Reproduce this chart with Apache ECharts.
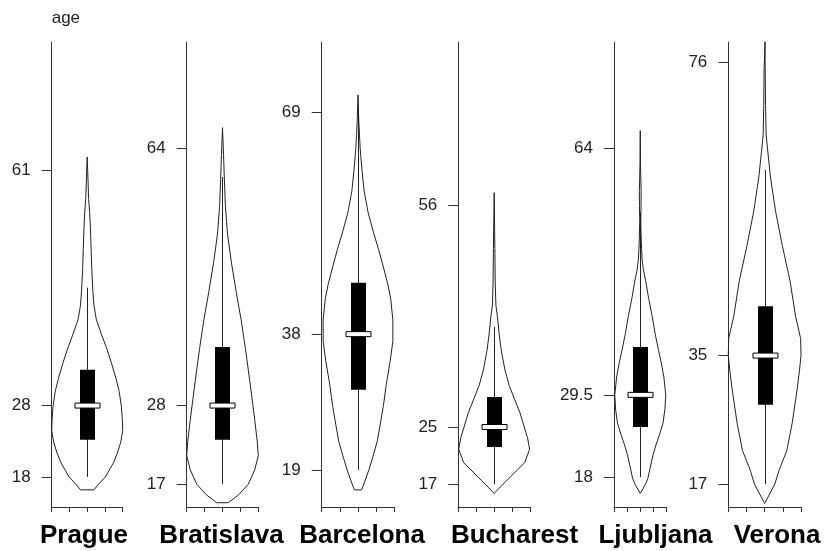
<!DOCTYPE html>
<html>
<head>
<meta charset="utf-8">
<script src="https://cdn.jsdelivr.net/npm/echarts@6/dist/echarts.min.js"></script>
<style>
  html, body { margin: 0; padding: 0; background: #fff; }
  #chart { width: 828px; height: 551px; }
</style>
</head>
<body>
<div id="chart"></div>
<script>
// ---------- data ----------
const cities = ['Prague', 'Bratislava', 'Barcelona', 'Bucharest', 'Ljubljana', 'Verona'];
const yAxisName = 'age';
const tickValues = [[18, 28, 61], [17, 28, 64], [19, 38, 69], [17, 25, 56], [18, 29.5, 64], [17, 35, 76]];

// violin outlines: age values and relative half-widths (density)
const pragueAge     = [16.2, 17, 18, 20, 21.5, 23, 24.5, 26, 28, 30, 32, 34, 36, 38, 40, 42, 44, 47, 50, 53, 55, 57, 60, 62.8];
const pragueWidth   = [0.19, 0.32, 0.51, 0.74, 0.86, 0.95, 1.0, 0.99, 0.96, 0.9, 0.8, 0.68, 0.55, 0.4, 0.26, 0.19, 0.16, 0.13, 0.11, 0.09, 0.07, 0.04, 0.02, 0];
const bratislavaAge   = [14.4, 15.5, 17, 19, 21, 23, 26, 28, 31.5, 36, 40, 44, 48, 52, 56, 60, 63, 66.9];
const bratislavaWidth = [0.16, 0.45, 0.72, 0.9, 1.0, 0.97, 0.9, 0.85, 0.76, 0.64, 0.52, 0.38, 0.25, 0.14, 0.08, 0.05, 0.03, 0];
const barcelonaAge   = [16.2, 17, 19, 21, 23, 25, 28, 31, 34, 37, 40, 43, 45, 47, 50, 52, 55, 58, 61, 64, 66, 68, 71.5];
const barcelonaWidth = [0.1, 0.16, 0.3, 0.42, 0.53, 0.6, 0.7, 0.78, 0.88, 0.96, 0.96, 0.9, 0.82, 0.72, 0.56, 0.44, 0.28, 0.17, 0.11, 0.06, 0.04, 0.02, 0];
const bucharestAge   = [15.7, 17, 19, 20, 21.9, 23.5, 25, 27, 28.5, 30.8, 33, 35.7, 38, 40.5, 42, 45, 50, 54, 57.8];
const bucharestWidth = [0, 0.25, 0.65, 0.85, 0.99, 0.93, 0.84, 0.72, 0.6, 0.42, 0.3, 0.2, 0.14, 0.09, 0.05, 0.03, 0.02, 0.01, 0];
const ljubljanaAge   = [15.7, 17, 17.8, 19, 21, 22.5, 24, 25.6, 27.5, 29.5, 32, 34, 35.7, 38, 40.6, 43, 45.4, 47, 48.5, 50, 52, 54, 56, 58, 60, 62, 66.5];
const ljubljanaWidth = [0, 0.2, 0.29, 0.36, 0.48, 0.6, 0.74, 0.87, 0.94, 0.97, 0.9, 0.8, 0.7, 0.57, 0.45, 0.32, 0.21, 0.12, 0.07, 0.05, 0.03, 0.02, 0.03, 0.035, 0.02, 0.01, 0];
const veronaAge   = [14.3, 17, 19, 21.7, 25.6, 30.5, 33, 35, 37.4, 40.5, 45.4, 50.3, 55.2, 60, 63.9, 66, 70, 75, 79];
const veronaWidth = [0, 0.28, 0.4, 0.61, 0.76, 0.9, 0.96, 1.0, 0.99, 0.85, 0.7, 0.49, 0.3, 0.16, 0.08, 0.04, 0.025, 0.015, 0.01];

// box statistics: [q1, q3, lower whisker, upper whisker, median]
const pragueBox     = [23.2, 33.0, 18, 44.5, 28];
const bratislavaBox = [23.2, 36.2, 17, 60, 28];
const barcelonaBox  = [30.2, 45.2, 19, 70, 38];
const bucharestBox  = [22.2, 29.2, 17, 39, 25];
const ljubljanaBox  = [25.0, 36.2, 18, 55, 29.5];
const veronaBox     = [28.1, 41.9, 17, 61, 35];

const violinAges   = [pragueAge, bratislavaAge, barcelonaAge, bucharestAge, ljubljanaAge, veronaAge];
const violinWidths = [pragueWidth, bratislavaWidth, barcelonaWidth, bucharestWidth, ljubljanaWidth, veronaWidth];
const boxes = [pragueBox, bratislavaBox, barcelonaBox, bucharestBox, ljubljanaBox, veronaBox];

// ---------- layout ----------
const gridLeft  = [51.7, 186.7, 321.7, 458.3, 614, 728.3];
const gridWidth = [71, 71.6, 72.6, 71.7, 52.5, 72.7];
const labelX    = [84, 221.5, 362, 514.5, 655.5, 777];
const Y_MIN = 13.8, Y_MAX = 78.9;
const TEXT = '#222';
const FONT = "'Liberation Sans', Arial, sans-serif";

const grids = [], xAxes = [], yAxes = [], series = [], graphics = [];

cities.forEach((city, i) => {
  grids.push({ left: gridLeft[i], width: gridWidth[i], top: 42, bottom: 44, containLabel: false });
  xAxes.push({
    type: 'value', gridIndex: i, min: -1, max: 1, interval: 0.5,
    axisLine: { show: true, onZero: false, lineStyle: { color: '#333', width: 1 } },
    axisTick: { show: true, length: 5, lineStyle: { color: '#333' } },
    axisLabel: { show: false }, splitLine: { show: false }
  });
  yAxes.push({
    type: 'value', gridIndex: i, min: Y_MIN, max: Y_MAX,
    name: i === 0 ? yAxisName : '',
    nameLocation: 'end', nameGap: 24,
    nameTextStyle: { align: 'left', verticalAlign: 'middle', fontSize: 17, color: TEXT, fontFamily: FONT },
    axisLine: { show: true, onZero: false, lineStyle: { color: '#333', width: 1 } },
    axisTick: { show: true, length: 10, customValues: tickValues[i], lineStyle: { color: '#333' } },
    axisLabel: { show: true, customValues: tickValues[i], margin: 21, fontSize: 17, color: TEXT, fontFamily: FONT,
                 showMinLabel: true, showMaxLabel: true },
    splitLine: { show: false }
  });

  // violin outline (right side upward, left side downward, closed)
  const ages = violinAges[i], ws = violinWidths[i];
  const pts = [];
  for (let k = 0; k < ages.length; k++) pts.push([ws[k], ages[k]]);
  for (let k = ages.length - 1; k >= 0; k--) pts.push([-ws[k], ages[k]]);
  pts.push([ws[0], ages[0]]);
  series.push({
    type: 'line', xAxisIndex: i, yAxisIndex: i, data: pts,
    symbol: 'none', showSymbol: false, smooth: false, silent: true,
    lineStyle: { color: '#222', width: 1 }, z: 2, animation: false
  });

  // box, whisker, median
  series.push({
    type: 'custom', xAxisIndex: i, yAxisIndex: i, z: 3, animation: false, silent: true,
    data: [[0].concat(boxes[i])],
    encode: { x: 0, y: [1, 2, 3, 4, 5] },
    renderItem: function (params, api) {
      const q1 = api.value(1), q3 = api.value(2), lo = api.value(3), hi = api.value(4), med = api.value(5);
      const pMed = api.coord([0, med]);
      const cx = Math.round(pMed[0]) + 0.5;
      const yLo = api.coord([0, lo])[1], yHi = api.coord([0, hi])[1];
      const yQ1 = api.coord([0, q1])[1], yQ3 = api.coord([0, q3])[1];
      return {
        type: 'group',
        children: [
          { type: 'line', shape: { x1: cx, y1: yLo, x2: cx, y2: yHi }, style: { stroke: '#222', lineWidth: 1 } },
          { type: 'rect', shape: { x: cx - 7.5, y: yQ3, width: 15, height: yQ1 - yQ3 }, style: { fill: '#000' } },
          { type: 'rect', shape: { x: cx - 12.5, y: pMed[1] - 2.5, width: 25, height: 5 },
            style: { fill: '#fff', stroke: '#000', lineWidth: 1 } }
        ]
      };
    }
  });

  graphics.push({
    type: 'text', x: labelX[i], y: 536,
    style: { text: city, x: 0, y: 0, textAlign: 'center', textVerticalAlign: 'middle',
             font: "bold 26px 'Liberation Sans', Arial, sans-serif", fill: '#000' }
  });
});

const chart = echarts.init(document.getElementById('chart'), null, { renderer: 'canvas' });
chart.setOption({
  backgroundColor: '#fff',
  animation: false,
  grid: grids, xAxis: xAxes, yAxis: yAxes, series: series,
  graphic: graphics
});
</script>
</body>
</html>
